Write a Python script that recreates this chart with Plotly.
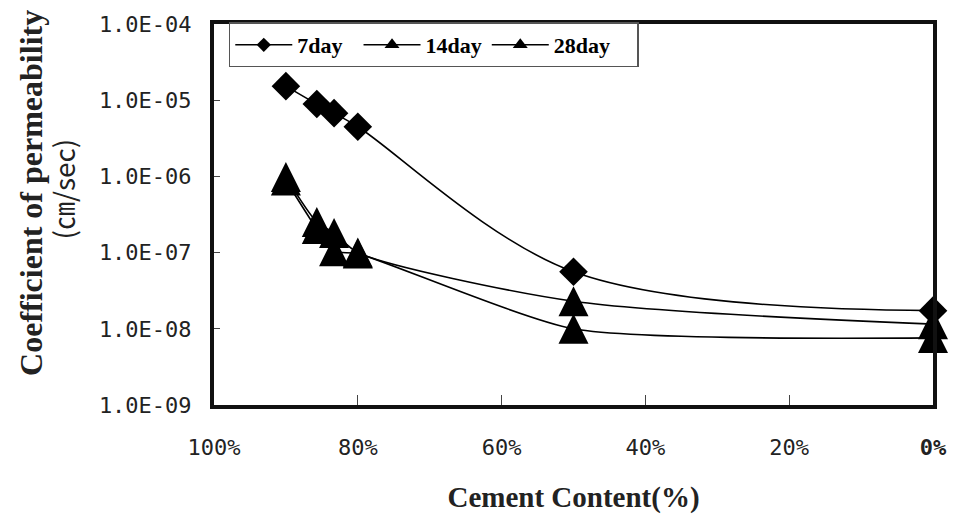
import plotly.graph_objects as go

# Cement content (%) of each mix
cement = [90, 85.7, 83.3, 80, 50, 0]

# Coefficient of permeability (cm/sec) by curing age
k_7day = [1.53e-5, 8.9e-6, 6.76e-6, 4.49e-6, 5.6e-8, 1.73e-8]
k_14day = [9.8e-7, 2.52e-7, 1.81e-7, 1.0e-7, 2.3e-8, 1.15e-8]
k_28day = [8.83e-7, 2.04e-7, 1.04e-7, 9.7e-8, 1.0e-8, 7.6e-9]

series_names = ["7day", "14day", "28day"]

x_ticks = [100, 80, 60, 40, 20, 0]
x_tick_labels = ["100%", "80%", "60%", "40%", "20%", "<b>0%</b>"]
y_ticks = [1e-4, 1e-5, 1e-6, 1e-7, 1e-8, 1e-9]
y_tick_labels = ["1.0E-04", "1.0E-05", "1.0E-06", "1.0E-07", "1.0E-08", "1.0E-09"]

y_title = "Coefficient of permeability"
y_unit = "(㎝/sec)"
x_title = "Cement Content(%)"

INK = "black"
TICK_FONT = dict(family="DejaVu Sans Mono", size=22, color="#222")
SERIF = "Liberation Serif, Times New Roman, serif"
NBSP = "\u00a0"

# upright triangle centred on the point: a flipped arrow shifted back by its radius
TRI_SIZE = 30
tri_marker = dict(symbol="arrow-down", angle=180, standoff=TRI_SIZE / 2,
                  size=TRI_SIZE, color=INK, line=dict(width=0))
dia_marker = dict(symbol="diamond", size=22, color=INK, line=dict(width=0))

fig = go.Figure()
for yvals, marker, smooth in ((k_7day, dia_marker, 1.0),
                              (k_14day, tri_marker, 0.75),
                              (k_28day, tri_marker, 0.6)):
    fig.add_trace(go.Scatter(x=cement, y=yvals, mode="lines+markers",
                             line=dict(shape="spline", smoothing=smooth, color=INK,
                                       width=1.6, backoff=0),
                             marker=marker, showlegend=False, cliponaxis=False,
                             hoverinfo="skip"))

# legend entries with compact symbols; trailing spaces widen the entry spacing
legend_symbols = ["diamond", "triangle-up", "triangle-up"]
legend_sizes = [11, 13, 13]
legend_pad = [2, 0, 4]
for name, sym, sz, pad in zip(series_names, legend_symbols, legend_sizes, legend_pad):
    fig.add_trace(go.Scatter(x=[None], y=[None], mode="lines+markers",
                             name=name + NBSP * pad,
                             line=dict(color=INK, width=1.6),
                             marker=dict(symbol=sym, size=sz, color=INK)))

# plot-area pixel geometry used to place the rotated y title
PLOT_L, PLOT_R, PLOT_T, PLOT_B = 214, 944, 20, 412
def px_x(px):
    return (px - PLOT_L) / (PLOT_R - PLOT_L)
def px_y(py):
    return (PLOT_B - py) / (PLOT_B - PLOT_T)

fig.update_layout(
    width=959, height=521,
    margin=dict(l=PLOT_L, r=959 - PLOT_R, t=PLOT_T, b=521 - PLOT_B),
    paper_bgcolor="white", plot_bgcolor="white",
    showlegend=True,
    legend=dict(orientation="h", x=px_x(229), y=1.004, xanchor="left", yanchor="top",
                bgcolor="white", bordercolor="#555", borderwidth=1.5,
                font=dict(family=SERIF, size=22, color=INK, weight="bold"),
                itemwidth=57, itemsizing="trace"),
    xaxis=dict(range=[100, 0], tickvals=x_ticks, ticktext=x_tick_labels,
               ticks="inside", ticklen=10, tickwidth=1, tickcolor="#444",
               showline=True, linewidth=4, linecolor="#111", mirror=True,
               showgrid=False, zeroline=False, tickfont=TICK_FONT,
               ticklabelstandoff=20,
               title=dict(text=f"<b>{x_title}</b>", standoff=28,
                          font=dict(family=SERIF, size=29, color="#222"))),
    yaxis=dict(type="log", range=[-9, -4], tickvals=y_ticks, ticktext=y_tick_labels,
               ticks="inside", ticklen=6, tickwidth=1, tickcolor="#444",
               showline=True, linewidth=4, linecolor="#111", mirror=True,
               showgrid=False, zeroline=False, tickfont=TICK_FONT,
               ticklabelstandoff=14),
    annotations=[
        dict(text=f"<b>{y_title}</b>", textangle=-90, xref="paper", yref="paper",
             x=px_x(28), y=px_y(194), xanchor="center", yanchor="middle",
             showarrow=False, font=dict(family=SERIF, size=32, color="#222")),
        dict(text=y_unit, textangle=-90, xref="paper", yref="paper",
             x=px_x(61), y=px_y(190), xanchor="center", yanchor="middle",
             showarrow=False, font=dict(family="Noto Sans CJK KR", size=28, color="#222")),
    ],
)

fig.write_html("out.html")
